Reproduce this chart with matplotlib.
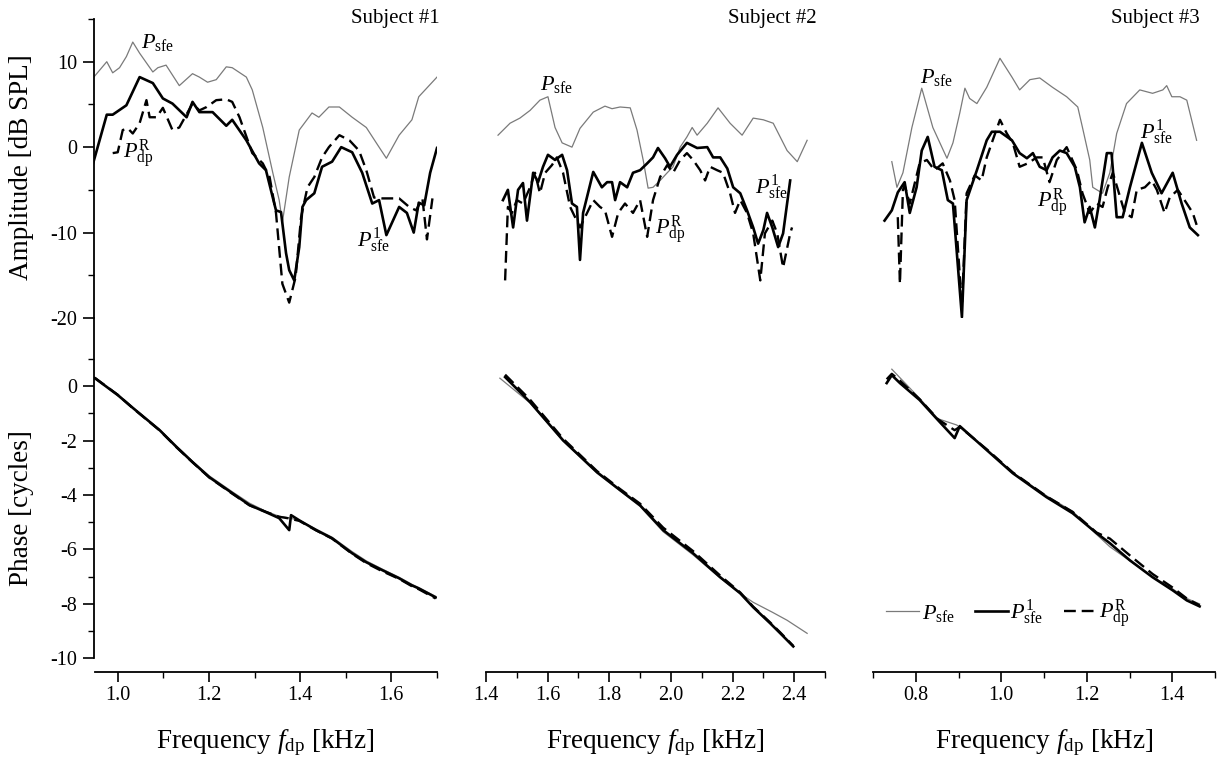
import numpy as np
import matplotlib
matplotlib.use("Agg")
import matplotlib.pyplot as plt
from matplotlib.lines import Line2D

plt.rcParams['font.family'] = ['Liberation Serif', 'DejaVu Serif']
plt.rcParams['mathtext.fontset'] = 'custom'
plt.rcParams['mathtext.rm'] = 'Liberation Serif'
plt.rcParams['mathtext.it'] = 'Liberation Serif:italic'
plt.rcParams['axes.unicode_minus'] = False

# ---------------- data: amplitude [dB SPL] ----------------
# subject 1
s1_f_sfe = [0.946, 0.976, 0.989, 1.004, 1.019, 1.033, 1.048, 1.077, 1.088, 1.106, 1.135, 1.164, 1.179,
            1.197, 1.216, 1.238, 1.251, 1.282, 1.295, 1.318, 1.34, 1.354, 1.361, 1.376, 1.398, 1.426,
            1.441, 1.463, 1.486, 1.514, 1.545, 1.573, 1.589, 1.617, 1.645, 1.66, 1.70]
s1_a_sfe = [8.1, 10.0, 8.7, 9.3, 10.6, 12.3, 11.0, 8.8, 9.3, 9.6, 7.2, 8.6, 8.2,
            7.6, 7.9, 9.4, 9.3, 8.2, 6.7, 2.3, -3.0, -6.2, -8.8, -3.5, 2.0, 4.0,
            3.5, 4.7, 4.7, 3.5, 2.3, 0.0, -1.3, 1.4, 3.2, 5.9, 8.2]
s1_f_sfe1 = [0.946, 0.976, 0.989, 1.019, 1.048, 1.077, 1.099, 1.12, 1.151, 1.164, 1.179, 1.208, 1.238,
             1.251, 1.282, 1.31, 1.325, 1.347, 1.358, 1.369, 1.376, 1.387, 1.398, 1.405, 1.413, 1.431,
             1.448, 1.47, 1.49, 1.514, 1.536, 1.558, 1.573, 1.589, 1.617, 1.634, 1.649, 1.66, 1.672,
             1.685, 1.70]
s1_a_sfe1 = [-1.9, 3.8, 3.8, 4.9, 8.2, 7.5, 5.7, 5.1, 3.5, 5.3, 4.1, 4.1, 2.5,
             3.2, 0.8, -1.9, -2.7, -7.4, -7.6, -12.4, -14.4, -15.6, -11.7, -7.0, -6.2, -5.4,
             -2.3, -1.7, 0.0, -0.6, -3.0, -6.6, -6.2, -10.3, -7.0, -7.7, -10.0, -6.5, -6.8,
             -3.0, -0.1]
s1_f_dpr = [0.989, 1.0, 1.011, 1.022, 1.033, 1.048, 1.063, 1.07, 1.085, 1.099, 1.12, 1.135, 1.164,
            1.179, 1.195, 1.216, 1.238, 1.251, 1.267, 1.295, 1.318, 1.333, 1.347, 1.361, 1.376, 1.39,
            1.402, 1.416, 1.431, 1.448, 1.463, 1.486, 1.508, 1.529, 1.545, 1.562, 1.58, 1.617, 1.639,
            1.654, 1.668, 1.678, 1.69]
s1_a_dpr = [-0.7, -0.6, 2.0, 2.2, 1.6, 2.8, 5.5, 3.5, 3.5, 4.6, 2.0, 2.3, 5.1,
            4.3, 4.7, 5.5, 5.6, 5.3, 3.5, -0.7, -1.9, -3.5, -7.7, -16.0, -18.2, -15.2,
            -8.2, -4.7, -3.5, -1.2, 0.0, 1.4, 0.8, -0.4, -2.7, -5.9, -6.0, -6.0, -7.0,
            -7.4, -6.0, -10.8, -6.0]

# subject 2
s2_f_sfe = [1.439, 1.478, 1.51, 1.543, 1.575, 1.601, 1.624, 1.647, 1.679, 1.705, 1.748, 1.786, 1.809,
            1.835, 1.868, 1.89, 1.91, 1.926, 1.942, 1.965, 1.988, 2.007, 2.03, 2.052, 2.069, 2.085,
            2.118, 2.153, 2.192, 2.231, 2.267, 2.3, 2.332, 2.377, 2.41, 2.442]
s2_a_sfe = [1.4, 2.8, 3.4, 4.3, 5.5, 5.9, 2.3, 0.5, 0.0, 2.2, 4.1, 4.8, 4.5,
            4.7, 4.6, 2.0, -1.5, -4.8, -4.7, -3.9, -3.0, -2.3, 0.0, 1.2, 2.3, 1.4,
            2.8, 4.6, 2.8, 1.4, 3.4, 3.2, 2.8, -0.4, -1.7, 0.8]
s2_f_sfe1 = [1.455, 1.471, 1.488, 1.504, 1.52, 1.533, 1.553, 1.569, 1.585, 1.601, 1.624, 1.647, 1.663,
             1.679, 1.695, 1.705, 1.715, 1.748, 1.776, 1.793, 1.809, 1.819, 1.835, 1.858, 1.877, 1.9,
             1.923, 1.942, 1.958, 1.981, 1.997, 2.02, 2.052, 2.085, 2.118, 2.137, 2.16, 2.183, 2.202,
             2.225, 2.247, 2.267, 2.283, 2.3, 2.312, 2.329, 2.348, 2.364, 2.387]
s2_a_sfe1 = [-6.2, -5.0, -9.4, -5.0, -4.2, -8.6, -3.0, -4.1, -2.3, -0.9, -1.5, -0.9, -2.7,
             -6.6, -7.0, -13.2, -7.7, -2.9, -4.7, -4.1, -4.1, -6.2, -4.1, -4.7, -3.0, -2.7,
             -1.9, -1.2, -0.1, -1.3, -2.3, -0.9, 0.5, -0.1, 0.0, -1.2, -1.2, -2.5, -4.7,
             -5.4, -7.4, -9.4, -11.3, -9.7, -7.7, -9.4, -11.7, -10.1, -3.9]
s2_f_dpr = [1.462, 1.471, 1.484, 1.5, 1.52, 1.543, 1.559, 1.575, 1.592, 1.614, 1.63, 1.65, 1.673,
            1.689, 1.705, 1.728, 1.748, 1.77, 1.786, 1.809, 1.829, 1.851, 1.877, 1.9, 1.923, 1.942,
            1.965, 1.988, 2.007, 2.03, 2.052, 2.072, 2.095, 2.111, 2.127, 2.15, 2.169, 2.192, 2.208,
            2.225, 2.247, 2.267, 2.29, 2.305, 2.329, 2.345, 2.364, 2.387, 2.393]
s2_a_dpr = [-15.6, -7.0, -7.7, -6.2, -6.6, -4.7, -3.0, -5.4, -3.0, -2.1, -1.2, -3.0, -7.0,
            -8.2, -9.4, -7.7, -6.2, -7.0, -7.4, -10.5, -7.7, -6.6, -7.7, -6.2, -10.5, -6.2,
            -3.5, -2.1, -3.0, -1.5, -0.7, -1.5, -2.7, -3.9, -2.3, -2.7, -3.0, -5.4, -7.7,
            -6.2, -7.7, -10.1, -15.6, -10.1, -8.6, -10.1, -14.1, -10.1, -9.4]

# subject 3
s3_f_sfe = [0.744, 0.756, 0.77, 0.791, 0.814, 0.84, 0.873, 0.887, 0.903, 0.915, 0.926, 0.943, 0.966,
            0.997, 1.025, 1.043, 1.067, 1.09, 1.12, 1.153, 1.179, 1.19, 1.207, 1.214, 1.237, 1.254,
            1.27, 1.293, 1.324, 1.354, 1.378, 1.387, 1.399, 1.418, 1.434, 1.457]
s3_a_sfe = [-1.7, -4.7, -3.0, 2.3, 6.9, 2.3, -1.3, 0.5, 4.0, 6.9, 5.7, 5.1, 7.0,
            10.4, 8.2, 6.7, 7.9, 8.1, 7.0, 5.9, 4.7, 2.3, -1.5, -4.7, -5.4, -3.0,
            1.6, 5.1, 6.7, 6.3, 6.7, 7.2, 5.9, 5.9, 5.5, 0.8]
s3_f_sfe1 = [0.727, 0.744, 0.758, 0.774, 0.786, 0.802, 0.814, 0.828, 0.844, 0.861, 0.875, 0.887, 0.908,
             0.919, 0.943, 0.966, 0.978, 0.997, 1.025, 1.043, 1.06, 1.074, 1.09, 1.106, 1.12, 1.137,
             1.153, 1.172, 1.184, 1.195, 1.207, 1.219, 1.23, 1.247, 1.258, 1.27, 1.284, 1.301, 1.329,
             1.352, 1.375, 1.401, 1.422, 1.441, 1.46]
s3_a_sfe1 = [-8.6, -7.4, -5.3, -4.1, -7.7, -4.7, -0.4, 1.2, -2.3, -2.7, -6.2, -6.6, -19.9,
             -6.2, -2.7, 0.8, 1.8, 1.8, 0.8, -0.7, -1.3, -0.7, -2.3, -2.7, -1.2, -0.4,
             -0.7, -2.3, -4.7, -8.8, -7.0, -9.4, -6.2, -0.7, -0.7, -8.2, -8.2, -4.7, 0.5,
             -3.0, -5.4, -3.0, -6.6, -9.4, -10.3]
s3_f_dpr = [0.758, 0.763, 0.77, 0.774, 0.786, 0.809, 0.826, 0.844, 0.863, 0.88, 0.891, 0.908, 0.919,
            0.938, 0.954, 0.966, 0.98, 0.997, 1.013, 1.027, 1.043, 1.062, 1.083, 1.097, 1.113, 1.13,
            1.153, 1.177, 1.19, 1.207, 1.223, 1.237, 1.249, 1.261, 1.273, 1.289, 1.305, 1.317, 1.336,
            1.352, 1.364, 1.382, 1.394, 1.413, 1.434, 1.448, 1.457]
s3_a_dpr = [-8.2, -16.0, -5.0, -4.5, -6.6, -1.9, -1.5, -2.7, -1.9, -3.9, -6.2, -18.7, -5.4,
            -3.3, -3.9, -1.2, 0.8, 3.2, 1.6, 0.5, -2.3, -1.9, -1.2, -1.2, -4.1, -1.5,
            0.0, -2.7, -5.4, -7.7, -6.6, -7.0, -4.7, -3.0, -5.0, -7.7, -8.2, -5.0, -4.7,
            -3.9, -5.0, -7.7, -5.9, -5.0, -6.6, -7.7, -9.1]

# ---------------- data: phase [cycles] ----------------
s1_pf = [0.95, 1.0, 1.033, 1.092, 1.129, 1.164, 1.201, 1.251, 1.289, 1.325, 1.354, 1.376, 1.38, 1.398,
         1.435, 1.47, 1.514, 1.545, 1.58, 1.617, 1.645, 1.66, 1.697]
s1_ph_sfe1 = [0.29, -0.33, -0.8, -1.62, -2.24, -2.79, -3.35, -3.93, -4.37, -4.63, -4.85, -5.29, -4.74, -4.93,
              -5.29, -5.59, -6.14, -6.47, -6.76, -7.06, -7.32, -7.43, -7.76]
s1_ph_sfe = [0.27, -0.3, -0.78, -1.6, -2.2, -2.76, -3.3, -3.88, -4.3, -4.6, -4.78, -4.84, -4.86, -4.93,
             -5.25, -5.55, -6.08, -6.42, -6.72, -7.02, -7.28, -7.4, -7.72]
s1_ph_dpr = [0.3, -0.32, -0.81, -1.63, -2.25, -2.8, -3.36, -3.95, -4.38, -4.62, -4.8, -4.86, -4.88, -4.95,
             -5.3, -5.6, -6.16, -6.5, -6.8, -7.08, -7.35, -7.46, -7.8]

s2_pf_sfe = [1.445, 1.543, 1.65, 1.76, 1.835, 1.9, 1.975, 2.072, 2.16, 2.225, 2.267, 2.33, 2.377, 2.442]
s2_ph_sfe = [0.29, -0.62, -2.02, -3.2, -3.85, -4.42, -5.35, -6.2, -7.05, -7.62, -7.94, -8.31, -8.6, -9.08]
s2_pf = [1.462, 1.543, 1.65, 1.76, 1.835, 1.9, 1.975, 2.072, 2.16, 2.225, 2.267, 2.322, 2.355, 2.397]
s2_ph_sfe1 = [0.33, -0.59, -1.99, -3.16, -3.82, -4.38, -5.29, -6.14, -7.02, -7.61, -8.12, -8.71, -9.08, -9.56]
s2_ph_dpr = [0.42, -0.5, -1.93, -3.12, -3.78, -4.32, -5.2, -6.06, -6.96, -7.58, -8.1, -8.68, -9.05, -9.54]

s3_pf_sfe = [0.744, 0.809, 0.852, 0.896, 0.966, 1.027, 1.106, 1.167, 1.223, 1.254, 1.301, 1.354, 1.401, 1.434, 1.464]
s3_ph_sfe = [0.62, -0.45, -1.2, -1.43, -2.33, -3.18, -4.03, -4.6, -5.45, -5.9, -6.42, -7.0, -7.45, -7.8, -8.0]
s3_pf = [0.732, 0.744, 0.763, 0.809, 0.852, 0.891, 0.903, 0.966, 1.027, 1.106, 1.167, 1.223, 1.254, 1.301,
         1.354, 1.401, 1.434, 1.464]
s3_ph_sfe1 = [0.11, 0.4, 0.11, -0.51, -1.25, -1.91, -1.47, -2.35, -3.2, -4.08, -4.67, -5.4, -5.77, -6.4,
              -7.02, -7.5, -7.87, -8.09]
s3_ph_dpr = [0.25, 0.45, 0.2, -0.48, -1.22, -1.62, -1.5, -2.32, -3.17, -4.05, -4.62, -5.38, -5.6, -6.22,
             -6.9, -7.4, -7.8, -8.05]

subjects = ['Subject #1', 'Subject #2', 'Subject #3']

# ---------------- figure ----------------
W, H = 1225, 764
fig = plt.figure(figsize=(W / 100, H / 100), dpi=100)

def frac(x0, y0, x1, y1):
    return [x0 / W, 1 - y1 / H, (x1 - x0) / W, (y1 - y0) / H]

# pixel extent, xlim, spine start, major ticks, minor ticks
panels = [(94, 437, (0.948, 1.70), 0.95, [1.0, 1.2, 1.4, 1.6], [1.1, 1.3, 1.5, 1.7]),
          (486, 825, (1.4, 2.5), 1.4, [1.4, 1.6, 1.8, 2.0, 2.2, 2.4], [1.5, 1.7, 1.9, 2.1, 2.3, 2.5]),
          (873, 1215, (0.7, 1.5), 0.7, [0.8, 1.0, 1.2, 1.4], [0.7, 0.9, 1.1, 1.3, 1.5])]

amp_data = [(s1_f_sfe, s1_a_sfe, s1_f_sfe1, s1_a_sfe1, s1_f_dpr, s1_a_dpr),
            (s2_f_sfe, s2_a_sfe, s2_f_sfe1, s2_a_sfe1, s2_f_dpr, s2_a_dpr),
            (s3_f_sfe, s3_a_sfe, s3_f_sfe1, s3_a_sfe1, s3_f_dpr, s3_a_dpr)]
ph_data = [(s1_pf, s1_ph_sfe, s1_pf, s1_ph_sfe1, s1_pf, s1_ph_dpr),
           (s2_pf_sfe, s2_ph_sfe, s2_pf, s2_ph_sfe1, s2_pf, s2_ph_dpr),
           (s3_pf_sfe, s3_ph_sfe, s3_pf, s3_ph_sfe1, s3_pf, s3_ph_dpr)]

# label positions (freq, value) for each subject: P_sfe, P_dp^R, P_sfe^1
lab_pos = [[(1.052, 12.3), (1.011, -0.9), (1.525, -10.9)],
           [(1.575, 7.3), (1.949, -9.7), (2.273, -4.7)],
           [(0.809, 8.2), (1.083, -6.6), (1.324, 1.8)]]

gray_kw = dict(color='#7a7a7a', lw=0.9)
solid_kw = dict(color='black', lw=1.9)
dash_kw = dict(color='black', lw=1.7, dashes=(5, 2.5))

tick_fs = 14.5
lab_fs = 19.5

for i, (x0, x1, xl, xstart, maj, mnr) in enumerate(panels):
    ax_a = fig.add_axes(frac(x0, 19, x1, 318))
    ax_p = fig.add_axes(frac(x0, 318, x1, 672))
    fs, a_s, f1, a1, fr, ar = amp_data[i]
    ax_a.plot(fs, a_s, **gray_kw)
    ax_a.plot(f1, a1, **solid_kw)
    ax_a.plot(fr, ar, **dash_kw)
    pf_s, p_s, pf_1, p_1, pf_r, p_r = ph_data[i]
    ax_p.plot(pf_s, p_s, **gray_kw)
    ax_p.plot(pf_1, p_1, **solid_kw)
    ax_p.plot(pf_r, p_r, **dash_kw)

    ax_a.set_xlim(xl)
    ax_p.set_xlim(xl)
    ax_a.set_ylim(-20, 15)
    ax_p.set_ylim(-10.5, 2.5)
    for ax in (ax_a, ax_p):
        ax.patch.set_visible(False)
        for s in ('top', 'right'):
            ax.spines[s].set_visible(False)
    ax_a.spines['bottom'].set_visible(False)
    ax_a.set_xticks([])

    ax_p.set_xticks(maj)
    ax_p.set_xticks(mnr, minor=True)
    ax_p.set_xticklabels(['%.1f' % v for v in maj], fontsize=tick_fs)
    ax_p.spines['bottom'].set_bounds(xstart, xl[1])
    ax_p.spines['bottom'].set_linewidth(1.3)
    ax_p.tick_params(axis='x', which='major', direction='out', length=7, width=1.2, pad=3)
    ax_p.tick_params(axis='x', which='minor', direction='out', length=4, width=1.0)
    ax_p.set_xlabel(r'Frequency $f_{\rm dp}$ [kHz]', fontsize=lab_fs, labelpad=16)

    if i == 0:
        ax_a.set_yticks([-20, -10, 0, 10])
        ax_a.set_yticks([-15, -5, 5, 15], minor=True)
        ax_a.set_yticklabels(['-20', '-10', '0', '10'], fontsize=tick_fs)
        ax_p.set_yticks([-10, -8, -6, -4, -2, 0])
        ax_p.set_yticks([-9, -7, -5, -3, -1, 1], minor=True)
        ax_p.set_yticklabels(['-10', '-8', '-6', '-4', '-2', '0'], fontsize=tick_fs)
        ax_p.spines['left'].set_bounds(-10, 2.5)
        for ax in (ax_a, ax_p):
            ax.spines['left'].set_linewidth(1.3)
            ax.tick_params(axis='y', which='major', direction='out', length=8, width=1.2, pad=4)
            ax.tick_params(axis='y', which='minor', direction='out', length=4.5, width=1.0)
    else:
        for ax in (ax_a, ax_p):
            ax.spines['left'].set_visible(False)
            ax.set_yticks([])
            ax.set_yticks([], minor=True)

    (xs, ys), (xr, yr), (x1l, y1l) = lab_pos[i]
    ax_a.text(xs, ys, r'$P_{\rm sfe}$', fontsize=16, ha='left', va='center')
    ax_a.text(xr, yr, r'$P^{\rm R}_{\rm dp}$', fontsize=16, ha='left', va='center')
    ax_a.text(x1l, y1l, r'$P^{1}_{\rm sfe}$', fontsize=16, ha='left', va='center')

    fig.text(x1 / W + [0.0024, -0.0065, -0.0122][i], 1 - 18 / H, subjects[i],
             fontsize=15, ha='right', va='center')

    if i == 2:
        handles = [Line2D([], [], **gray_kw), Line2D([], [], **solid_kw), Line2D([], [], **dash_kw)]
        ax_p.legend(handles, [r'$P_{\rm sfe}$', r'$P^{1}_{\rm sfe}$', r'$P^{\rm R}_{\rm dp}$'],
                    loc='center left', bbox_to_anchor=(886 / W, 1 - 614 / H),
                    bbox_transform=fig.transFigure, ncol=3, frameon=False, fontsize=16,
                    handlelength=1.5, handletextpad=0.1, columnspacing=0.9, borderpad=0,
                    borderaxespad=0)

fig.text(22 / W, 1 - 167 / H, 'Amplitude [dB SPL]', rotation=90, fontsize=lab_fs,
         ha='center', va='center')
fig.text(22 / W, 1 - 508 / H, 'Phase [cycles]', rotation=90, fontsize=lab_fs,
         ha='center', va='center')

fig.savefig('out.png', dpi=100)
